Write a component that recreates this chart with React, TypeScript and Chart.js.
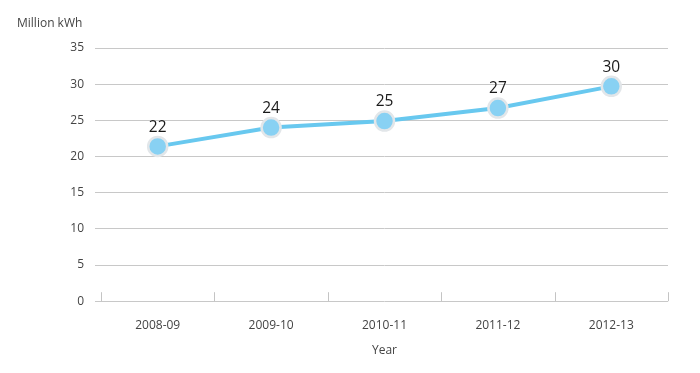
import React, { useEffect, useRef } from "react";
import { Chart, registerables } from "chart.js";

Chart.register(...registerables);

const categories = ["2008-09", "2009-10", "2010-11", "2011-12", "2012-13"];
const values = [21.4, 24.0, 24.9, 26.7, 29.7];
const valueLabels = ["22", "24", "25", "27", "30"];
const yTicks = [0, 5, 10, 15, 20, 25, 30, 35];
const yTitle = "Million kWh";
const xTitle = "Year";

const FONT = "'Open Sans', 'Liberation Sans', sans-serif";

const extrasPlugin = {
  id: "extras",
  afterDraw(chart: any) {
    const ctx = chart.ctx;
    const xs = chart.scales.x;
    const area = chart.chartArea;
    ctx.save();
    ctx.strokeStyle = "#c4c4c4";
    ctx.lineWidth = 1;
    const n = categories.length;
    const half = (xs.getPixelForValue(1) - xs.getPixelForValue(0)) / 2;
    for (let i = 0; i <= n; i++) {
      const x = Math.round(xs.getPixelForValue(0) - half + i * half * 2) + 0.5;
      ctx.beginPath();
      ctx.moveTo(x, area.bottom);
      ctx.lineTo(x, area.bottom - 9);
      ctx.stroke();
    }
    ctx.fillStyle = "#444";
    ctx.font = "12px " + FONT;
    ctx.textAlign = "left";
    ctx.textBaseline = "middle";
    ctx.fillText(yTitle, 9, 16);
    const meta = chart.getDatasetMeta(0);
    ctx.fillStyle = "#1a1a1a";
    ctx.font = "15.5px " + FONT;
    ctx.textAlign = "center";
    ctx.textBaseline = "middle";
    meta.data.forEach((pt: any, i: number) => {
      ctx.fillText(valueLabels[i], pt.x, pt.y - 19);
    });
    ctx.restore();
  },
};

export default function App() {
  const ref = useRef<HTMLCanvasElement | null>(null);
  useEffect(() => {
    if (!ref.current) return;
    const chart = new Chart(ref.current, {
      type: "line",
      data: {
        labels: categories,
        datasets: [
          {
            data: values,
            borderColor: "#68c8ef",
            borderWidth: 4,
            pointRadius: 9.5,
            pointHoverRadius: 9.5,
            pointBackgroundColor: "#88d1f3",
            pointBorderColor: "#e2e6e9",
            pointBorderWidth: 2.5,
            tension: 0,
          },
        ],
      },
      options: {
        animation: false,
        responsive: true,
        maintainAspectRatio: false,
        layout: { padding: { left: 0, right: 24, top: 40, bottom: 7 } },
        plugins: { legend: { display: false }, tooltip: { enabled: false } },
        scales: {
          x: {
            offset: true,
            grid: { display: false },
            border: { display: false },
            ticks: {
              color: "#444",
              font: { family: FONT, size: 12 },
              padding: 9,
            },
            title: {
              display: true,
              text: xTitle,
              color: "#444",
              font: { family: FONT, size: 12 },
              padding: { top: 2, bottom: 0 },
            },
          },
          y: {
            min: 0,
            max: 35,
            afterBuildTicks: (scale: any) => {
              scale.ticks = yTicks.map((v) => ({ value: v }));
            },
            afterFit: (scale: any) => {
              scale.width = 93;
            },
            grid: {
              color: "#c8c8c8",
              lineWidth: 1,
              drawTicks: true,
              tickLength: 6,
            },
            border: { display: false },
            ticks: {
              color: "#444",
              font: { family: FONT, size: 12 },
              padding: 11,
            },
          },
        },
      },
      plugins: [extrasPlugin],
    });
    return () => chart.destroy();
  }, []);
  return (
    <div style={{ width: 684, height: 357, position: "relative" }}>
      <canvas ref={ref} />
    </div>
  );
}
